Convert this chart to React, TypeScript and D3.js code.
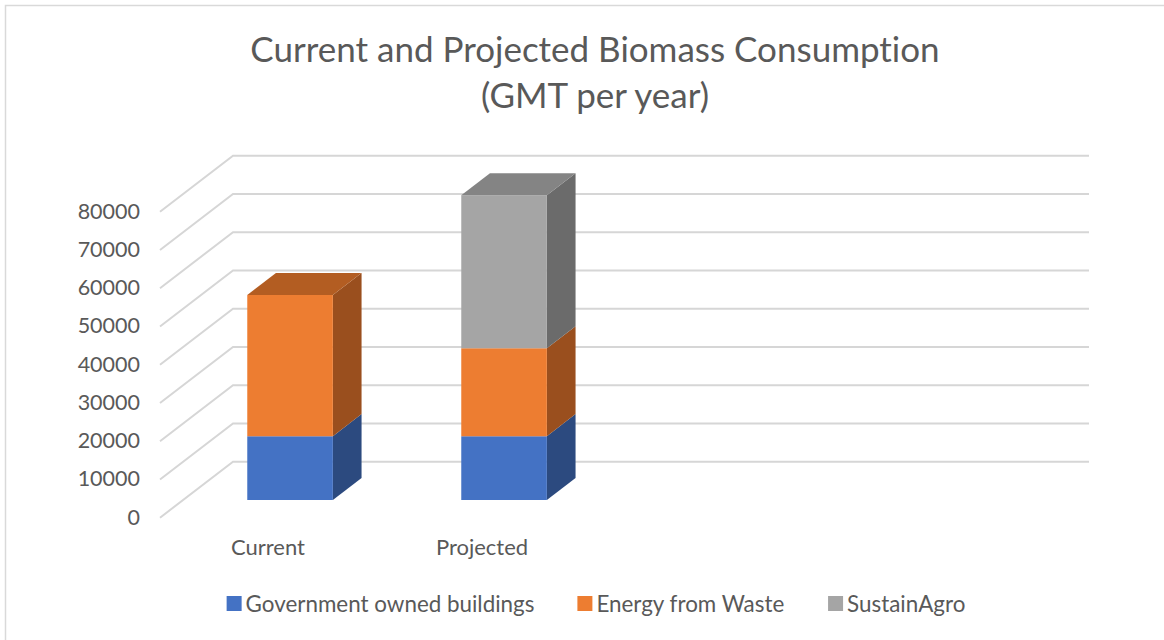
import { useMemo } from 'react';
import * as d3 from 'd3';

// chart data
const CATEGORIES = ['Current', 'Projected'];
const SERIES = ['Government owned buildings', 'Energy from Waste', 'SustainAgro'];
const GOV_BUILDINGS = [16700, 16700];
const ENERGY_FROM_WASTE = [36900, 23000];
const SUSTAIN_AGRO = [0, 40000];
const Y_TICKS = [0, 10000, 20000, 30000, 40000, 50000, 60000, 70000, 80000];
const TITLE_LINES = ['Current and Projected Biomass Consumption', '(GMT per year)'];

// front / side / top shades per series
const COLORS = [
  { front: '#4472c4', side: '#2c4a7f', top: '#365a9c' },
  { front: '#ed7d31', side: '#9a4f1e', top: '#b35d22' },
  { front: '#a5a5a5', side: '#6b6b6b', top: '#848484' },
];

const W = 1164;
const H = 640;
const FONT = 'Lato, "Open Sans", sans-serif';
const TEXT = '#595959';
const GRID = '#d6d6d6';

// 3D frame: front-left floor corner, depth vector (front -> back)
const ORIGIN = { x: 160, y: 517.7 };
const DEPTH = { x: 73, y: -56 };
const PLOT_W = 856;
const PLOT_H = 306;
const SLOTS = 4;
const BAR_D0 = 0.316;
const BAR_D1 = 0.709;

function measure(text: string, size: number) {
  const ctx = document.createElement('canvas').getContext('2d');
  if (!ctx) return text.length * size * 0.5;
  ctx.font = `${size}px Lato`;
  return ctx.measureText(text).width;
}

export default function App() {
  const x = d3.scaleBand<number>()
    .domain(d3.range(SLOTS))
    .range([0, PLOT_W])
    .paddingInner(0.6)
    .paddingOuter(0.3);
  const y = d3.scaleLinear().domain([0, 80000]).range([0, PLOT_H]);

  // project (x along plot, value, depth fraction) to screen
  const P = (px: number, v: number, d: number): [number, number] => [
    ORIGIN.x + px + DEPTH.x * d,
    ORIGIN.y - y(v) + DEPTH.y * d,
  ];
  const poly = (pts: [number, number][]) => 'M' + pts.map(p => p.join(',')).join('L') + 'Z';

  const stacked = useMemo(() => {
    const rows = CATEGORIES.map((c, i) => ({
      cat: c,
      s0: GOV_BUILDINGS[i],
      s1: ENERGY_FROM_WASTE[i],
      s2: SUSTAIN_AGRO[i],
    }));
    return d3.stack<any>().keys(['s0', 's1', 's2'])(rows);
  }, []);

  const legendSize = 22.4;
  const legendItems = useMemo(() => {
    const widths = SERIES.map(s => measure(s, legendSize));
    const sq = 15, gap = 4, between = 43;
    const total = d3.sum(widths) + SERIES.length * (sq + gap) + between * (SERIES.length - 1);
    let cx = 596 - total / 2;
    return SERIES.map((s, i) => {
      const item = { label: s, x: cx, color: COLORS[i].front };
      cx += sq + gap + widths[i] + between;
      return item;
    });
  }, []);

  return (
    <svg width={W} height={H} style={{ position: 'absolute', left: 0, top: 0, fontFamily: FONT, fontVariantLigatures: 'none' }}>
      <rect x={0} y={0} width={W} height={H} fill="white" />
      <rect x={5.5} y={5.5} width={W + 10} height={H + 10} fill="none" stroke="#d9d9d9" strokeWidth={1.5} />

      {/* title */}
      {TITLE_LINES.map((t, i) => (
        <text key={i} x={595} y={62 + i * 46} textAnchor="middle" fontSize={35} fill={TEXT}>{t}</text>
      ))}

      {/* walls: left-wall diagonals and back-wall lines */}
      {Y_TICKS.map(t => {
        const a = P(0, t, 0), b = P(0, t, 1), c = P(PLOT_W, t, 1);
        return (
          <g key={t}>
            <path d={`M${a}L${b}L${c}`} fill="none" stroke={GRID} strokeWidth={2} />
            <text x={a[0] - 20} y={a[1] + 7} textAnchor="end" fontSize={21.5} fill={TEXT}>{t}</text>
          </g>
        );
      })}

      {/* stacked 3D columns */}
      {CATEGORIES.map((c, ci) => {
        const x0 = x(ci)!, x1 = x0 + x.bandwidth();
        const segs = stacked.map((layer, si) => ({ si, v0: layer[ci][0], v1: layer[ci][1] }))
          .filter(s => s.v1 > s.v0);
        return (
          <g key={c}>
            {segs.map((s, k) => {
              const col = COLORS[s.si];
              const isTop = k === segs.length - 1;
              return (
                <g key={s.si}>
                  <path d={poly([P(x1, s.v0, BAR_D0), P(x1, s.v0, BAR_D1), P(x1, s.v1, BAR_D1), P(x1, s.v1, BAR_D0)])} fill={col.side} />
                  <path d={poly([P(x0, s.v0, BAR_D0), P(x1, s.v0, BAR_D0), P(x1, s.v1, BAR_D0), P(x0, s.v1, BAR_D0)])} fill={col.front} />
                  {isTop && (
                    <path d={poly([P(x0, s.v1, BAR_D0), P(x1, s.v1, BAR_D0), P(x1, s.v1, BAR_D1), P(x0, s.v1, BAR_D1)])} fill={col.top} />
                  )}
                </g>
              );
            })}
          </g>
        );
      })}

      {/* category labels */}
      {CATEGORIES.map((c, ci) => {
        const [lx, ly] = P(x(ci)! + x.bandwidth() / 2, 0, 0);
        return (
          <text key={c} x={lx + 1} y={ly + 37} textAnchor="middle" fontSize={22} fill={TEXT}>{c}</text>
        );
      })}

      {/* legend */}
      {legendItems.map(it => (
        <g key={it.label} transform={`translate(${it.x},596)`}>
          <rect width={15} height={15} fill={it.color} />
          <text x={19} y={16} fontSize={legendSize} fill={TEXT}>{it.label}</text>
        </g>
      ))}
    </svg>
  );
}
